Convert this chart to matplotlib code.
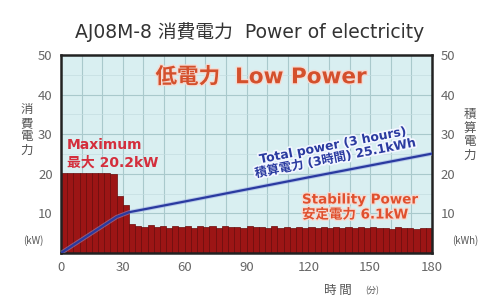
import matplotlib
matplotlib.use("Agg")
import matplotlib.pyplot as plt
import matplotlib.patheffects as pe
import numpy as np

plt.rcParams['font.family'] = ['Noto Sans CJK JP', 'DejaVu Sans']
WIDE = ['DejaVu Sans', 'Noto Sans CJK JP']

# ---- data ----
bar_step_min = 3
power_kw = [20.2, 20.2, 20.2, 20.2, 20.2, 20.2, 20.2, 20.2, 20.0, 14.5, 12.0, 7.2,
            6.9, 6.5, 7.0, 6.6, 6.8, 6.4, 6.9, 6.6, 6.7, 6.3, 6.8, 6.5,
            6.7, 6.4, 6.8, 6.5, 6.6, 6.3, 6.7, 6.5, 6.6, 6.3, 6.7, 6.4,
            6.6, 6.3, 6.6, 6.4, 6.5, 6.2, 6.6, 6.3, 6.5, 6.2, 6.6, 6.3,
            6.5, 6.2, 6.5, 6.3, 6.4, 6.1, 6.5, 6.2, 6.4, 6.1, 6.4, 6.2]
total_t = [0, 27, 33, 60, 120, 180]
total_kwh = [0, 9.1, 10.3, 13.0, 19.1, 25.1]
x_ticks = [0, 30, 60, 90, 120, 150, 180]
y_ticks = [10, 20, 30, 40, 50]

W, H = 493, 306
fig = plt.figure(figsize=(W / 100, H / 100), dpi=100)
ax = fig.add_axes([61 / W, 1 - 253 / H, (432 - 61) / W, (253 - 55) / H])
ax.set_facecolor('#d9eff1')
ax.set_xlim(0, 180)
ax.set_ylim(0, 50)

# grid
for gx in range(10, 180, 10):
    ax.axvline(gx, color='#a9c9cc', lw=0.8, zorder=0)
for gy in range(10, 50, 10):
    ax.axhline(gy, color='#a9c9cc', lw=0.8, zorder=0)
for gy in range(5, 50, 10):
    ax.axhline(gy, color='#c4dde0', lw=0.5, zorder=0)

t = np.arange(len(power_kw)) * bar_step_min
ax.bar(t, power_kw, width=bar_step_min, align='edge', color='#9c1515',
       edgecolor='#6a0a0a', linewidth=0.5, zorder=2)

ax.plot(total_t, total_kwh, color='#2a3aa0', lw=1.6, zorder=3,
        path_effects=[pe.Stroke(linewidth=3.0, foreground='#8f9fe0', alpha=0.5), pe.Normal()])

for s in ax.spines.values():
    s.set_linewidth(1.8)
    s.set_color('#222222')

ax.set_xticks(x_ticks)
ax.set_xticklabels([str(v) for v in x_ticks])
ax.set_yticks(y_ticks)
ax.tick_params(axis='both', length=0, labelsize=9.5, colors='#666666', pad=4)
ax.tick_params(axis='y', labelleft=True, labelright=True, pad=6)
ax.tick_params(axis='x', pad=6)

# annotations
def fx(px):
    return px / W

def fy(py):
    return 1 - py / H

fig.text(fx(250), fy(32), 'AJ08M-8 消費電力  Power of electricity', ha='center', va='center',
         fontsize=13.5, color='#333333', family=WIDE)

halo = [pe.withStroke(linewidth=2.0, foreground='#f4dcd4')]
fig.text(fx(261), fy(77), '低電力  Low Power', ha='center', va='center', fontsize=15.5,
         fontweight='bold', color='#d4502c', path_effects=halo, family=WIDE)

fig.text(fx(67), fy(145), 'Maximum', ha='left', va='center', fontsize=10,
         fontweight='bold', color='#d42e3c', family=WIDE)
fig.text(fx(67), fy(163), '最大 20.2kW', ha='left', va='center', fontsize=10,
         fontweight='bold', color='#d42e3c', family=WIDE)

blue_halo = [pe.withStroke(linewidth=2.5, foreground='#f2f6ff')]
fig.text(fx(334), fy(152), 'Total power (3 hours)\n積算電力 (3時間) 25.1kWh', ha='center',
         va='center', fontsize=8.9, fontweight='bold', color='#2a3aa0', rotation=11,
         rotation_mode='anchor', linespacing=1.0, path_effects=blue_halo, family=WIDE)

fig.text(fx(302), fy(200), 'Stability Power', ha='left', va='center', fontsize=9.7,
         fontweight='bold', color='#e0502e', path_effects=halo, family=WIDE)
fig.text(fx(302), fy(215), '安定電力 6.1kW', ha='left', va='center', fontsize=9.7,
         fontweight='bold', color='#e0502e', path_effects=halo, family=WIDE)

fig.text(fx(27), fy(130), '消\n費\n電\n力', ha='center', va='center', fontsize=9,
         color='#555555', linespacing=1.05)
fig.text(fx(470), fy(135), '積\n算\n電\n力', ha='center', va='center', fontsize=9,
         color='#555555', linespacing=1.05)
fig.text(fx(33), fy(241), '(kW)', ha='center', va='center', fontsize=7, color='#555555')
fig.text(fx(465), fy(241), '(kWh)', ha='center', va='center', fontsize=7, color='#555555')
fig.text(fx(338), fy(290), '時 間', ha='center', va='center', fontsize=9, color='#555555')
fig.text(fx(372), fy(291), '(分)', ha='center', va='center', fontsize=6, color='#555555')

fig.savefig('out.png', dpi=100, facecolor='white')
